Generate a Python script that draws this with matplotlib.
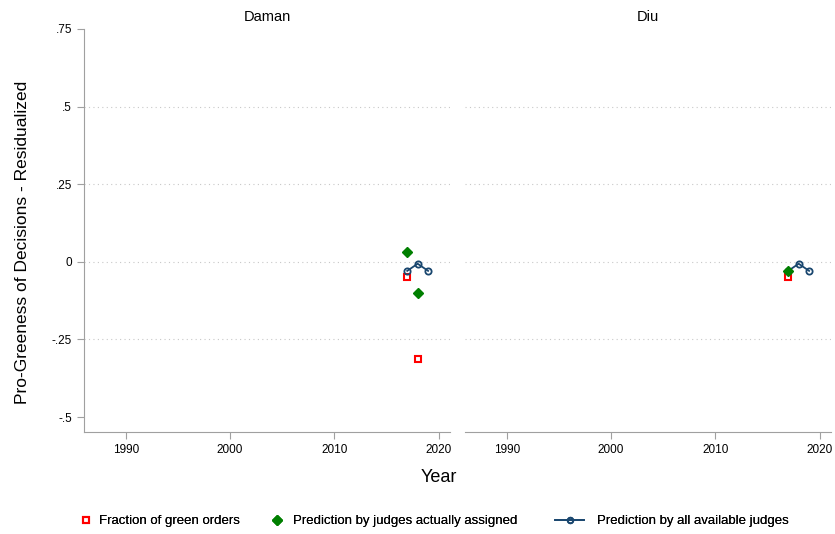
import matplotlib.pyplot as plt
from matplotlib.lines import Line2D

plt.rcParams['font.family'] = ['Liberation Sans', 'DejaVu Sans']

panels = ['Daman', 'Diu']

# Fraction of green orders
frac_years = {'Daman': [2017, 2018], 'Diu': [2017]}
frac_vals = {'Daman': [-0.048, -0.313], 'Diu': [-0.048]}

# Prediction by judges actually assigned
assigned_years = {'Daman': [2017, 2018], 'Diu': [2017]}
assigned_vals = {'Daman': [0.032, -0.100], 'Diu': [-0.029]}

# Prediction by all available judges
avail_years = {'Daman': [2017, 2018, 2019], 'Diu': [2017, 2018, 2019]}
avail_vals = {'Daman': [-0.029, -0.006, -0.029], 'Diu': [-0.029, -0.006, -0.029]}

yticks = [-0.5, -0.25, 0, 0.25, 0.5, 0.75]
yticklabels = ['-.5', '-.25', '0', '.25', '.5', '.75']
xticks = [1990, 2000, 2010, 2020]

red = '#ff0000'
green = '#007f00'
navy = '#1a476f'
axis_col = '#a0a0a0'

fig = plt.figure(figsize=(8.35, 5.34), dpi=100)
ax_pos = [[0.1006, 0.191, 0.4383, 0.7547], [0.5569, 0.191, 0.4383, 0.7547]]

for i, name in enumerate(panels):
    ax = fig.add_axes(ax_pos[i])
    for g in [-0.25, 0, 0.25, 0.5]:
        ax.axhline(g, color='#c8c8c8', lw=0.8, ls=(0, (1, 3)), zorder=0)
    ax.plot(avail_years[name], avail_vals[name], color=navy, lw=1.3,
            marker='o', ms=4.5, mfc='none', mec=navy, mew=1.3, zorder=3)
    ax.plot(frac_years[name], frac_vals[name], ls='none', marker='s', ms=4.5,
            mfc='none', mec=red, mew=1.5, zorder=2)
    ax.plot(assigned_years[name], assigned_vals[name], ls='none', marker='D',
            ms=5.5, color=green, zorder=4)
    ax.set_xlim(1986, 2021.1)
    ax.set_ylim(-0.548, 0.75)
    ax.set_xticks(xticks)
    ax.set_xticklabels([str(x) for x in xticks], fontsize=8.5)
    ax.set_yticks(yticks)
    ax.set_yticklabels(yticklabels, fontsize=8.5)
    ax.tick_params(axis='both', color=axis_col, length=5, width=0.8)
    ax.spines['top'].set_visible(False)
    ax.spines['right'].set_visible(False)
    ax.spines['bottom'].set_color(axis_col)
    ax.spines['left'].set_color(axis_col)
    if i == 1:
        ax.spines['left'].set_visible(False)
        ax.tick_params(axis='y', left=False, labelleft=False)
    ax.set_title(name, fontsize=10.5, pad=6)

fig.text(0.027, 0.547, 'Pro-Greeness of Decisions - Residualized', rotation=90,
         ha='center', va='center', fontsize=12.5)
fig.text(0.525, 0.105, 'Year', ha='center', va='center', fontsize=13)

handles = [
    Line2D([], [], ls='none', marker='s', ms=4.5, mfc='none', mec=red, mew=1.5),
    Line2D([], [], ls='none', marker='D', ms=5.5, color=green),
    Line2D([], [], color=navy, lw=1.3, marker='o', ms=4, mfc='none', mec=navy, mew=1.3),
]
labels = ['Fraction of green orders', 'Prediction by judges actually assigned',
          'Prediction by all available judges']
# one legend per entry, placed where the reference has them
lefts = [79.5 / 835, 270.5 / 835, 555 / 835]
hlens = [1.0, 1.0, 2.2]
pads = [0.5, 0.7, 1.0]
for h, lab, x0, hl, tp in zip(handles, labels, lefts, hlens, pads):
    leg = fig.legend([h], [lab], loc='center left', bbox_to_anchor=(x0, 1 - 521 / 534),
                     frameon=False, fontsize=9.5, handlelength=hl, handletextpad=tp,
                     borderpad=0, borderaxespad=0)
    fig.add_artist(leg)

fig.savefig('out.png', dpi=100)
